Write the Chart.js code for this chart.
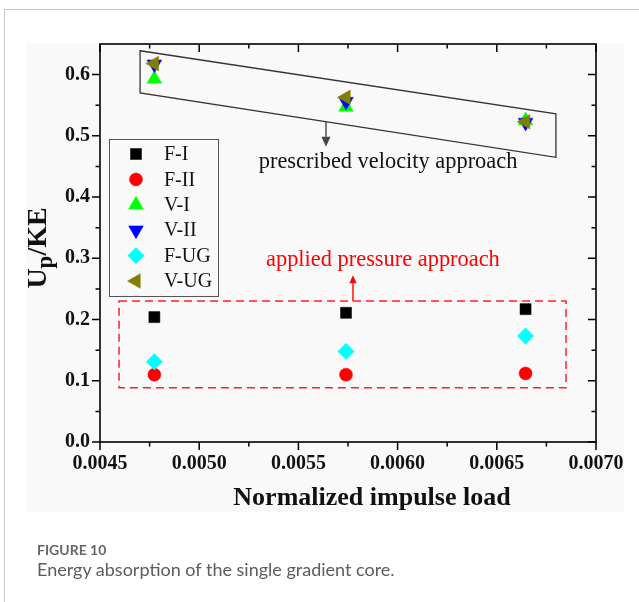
<!DOCTYPE html>
<html>
<head>
<meta charset="utf-8">
<script src="https://cdn.jsdelivr.net/npm/chart.js@4/dist/chart.umd.min.js"></script>
<style>
  html, body { margin: 0; padding: 0; background: #fff; width: 639px; height: 602px; overflow: hidden; }
  .card { position: absolute; left: 4px; top: 9px; width: 720px; height: 700px; border: 1px solid #c9c9c9; box-sizing: border-box; }
  .panel { position: absolute; left: 26px; top: 43px; width: 598px; height: 469px; background: #f9f9f9; }
  #chart { position: absolute; left: 0; top: 0; }
  .cap { position: absolute; left: 37px; font-family: Lato, "Open Sans", sans-serif; color: #666; white-space: nowrap; }
  .cap.num { top: 541px; font-size: 14px; font-weight: 700; line-height: 18px; }
  .cap.txt { top: 558px; font-size: 18px; line-height: 22px; color: #5c5c5c; }
</style>
</head>
<body>
<div class="card"></div>
<div class="panel"></div>
<canvas id="chart" width="639" height="602"></canvas>
<div class="cap num">FIGURE 10</div>
<div class="cap txt">Energy absorption of the single gradient core.</div>
<script>
// Normalized impulse load for the three load cases
const impulse = [0.004774, 0.005740, 0.006645];

// Up/KE for each model
const fI  = [0.204, 0.211, 0.217];
const fII = [0.110, 0.110, 0.112];
const vI  = [0.593, 0.547, 0.525];
const vII = [0.617, 0.556, 0.522];
const fUG = [0.131, 0.148, 0.173];
const vUG = [0.618, 0.563, 0.523];

const seriesNames = ['F-I', 'F-II', 'V-I', 'V-II', 'F-UG', 'V-UG'];

// Axis tick values
const xTickValues = [0.0045, 0.0050, 0.0055, 0.0060, 0.0065, 0.0070];
const xMinorTicks = [0.00475, 0.00525, 0.00575, 0.00625, 0.00675];
const yTickValues = [0.0, 0.1, 0.2, 0.3, 0.4, 0.5, 0.6];
const yMinorTicks = [0.05, 0.15, 0.25, 0.35, 0.45, 0.55];

// Grouping outlines and their labels, in axis units
const velocityBox = [[0.004702, 0.639], [0.006798, 0.536], [0.006798, 0.465], [0.004702, 0.570]];
const velocityArrow = { x: 0.005639, from: 0.523, to: 0.482 };
const velocityLabel = { x: 0.005952, y: 0.457, text: 'prescribed velocity approach' };
const pressureBox = { x0: 0.004596, x1: 0.006849, y0: 0.0885, y1: 0.2304 };
const pressureArrow = { x: 0.005775, from: 0.2304, to: 0.2725 };
const pressureLabel = { x: 0.005926, y: 0.297, text: 'applied pressure approach' };

const SERIF = '"Liberation Serif", "Times New Roman", serif';

const pairs = ys => ys.map((v, i) => ({ x: impulse[i], y: v }));

const styles = [
  { color: '#000000', pointStyle: 'rect',     rotation: 0,   radius: 7.8 },
  { color: '#ff0000', pointStyle: 'circle',   rotation: 0,   radius: 6.5 },
  { color: '#00ff00', pointStyle: 'triangle', rotation: 0,   radius: 8.5 },
  { color: '#0000ff', pointStyle: 'triangle', rotation: 180, radius: 8.5 },
  { color: '#00ffff', pointStyle: 'rectRot',  rotation: 0,   radius: 8.2 },
  { color: '#808000', pointStyle: 'triangle', rotation: 270, radius: 8.5 }
];
const seriesValues = [fI, fII, vI, vII, fUG, vUG];

const datasets = seriesValues.map((vals, i) => ({
  label: seriesNames[i],
  data: pairs(vals),
  showLine: false,
  pointStyle: styles[i].pointStyle,
  rotation: styles[i].rotation,
  pointRadius: styles[i].radius,
  pointHoverRadius: styles[i].radius,
  backgroundColor: styles[i].color,
  borderColor: styles[i].color,
  pointBorderWidth: 0.5,
  order: seriesNames.length - i
}));

function arrow(ctx, x, y0, y1, color, head) {
  ctx.strokeStyle = color;
  ctx.fillStyle = color;
  ctx.lineWidth = 1.4;
  const dir = Math.sign(y1 - y0);
  ctx.beginPath();
  ctx.moveTo(x, y0);
  ctx.lineTo(x, y1 - dir * head);
  ctx.stroke();
  ctx.beginPath();
  ctx.moveTo(x, y1);
  ctx.lineTo(x - head * 0.45, y1 - dir * head);
  ctx.lineTo(x + head * 0.45, y1 - dir * head);
  ctx.closePath();
  ctx.fill();
}

const decorations = {
  id: 'decorations',
  beforeDatasetsDraw(chart) {
    const { ctx, chartArea: a, scales: { x, y } } = chart;
    ctx.save();

    // plot frame
    ctx.strokeStyle = '#000';
    ctx.lineWidth = 1.6;
    ctx.strokeRect(a.left, a.top, a.right - a.left, a.bottom - a.top);

    // ticks: outward on bottom/left, inward on top/right
    const major = 8, minor = 4.5;
    ctx.lineWidth = 1.5;
    const tickX = (v, len) => {
      const px = x.getPixelForValue(v);
      ctx.beginPath();
      ctx.moveTo(px, a.bottom); ctx.lineTo(px, a.bottom + len);
      ctx.moveTo(px, a.top); ctx.lineTo(px, a.top + len);
      ctx.stroke();
    };
    const tickY = (v, len) => {
      const py = y.getPixelForValue(v);
      ctx.beginPath();
      ctx.moveTo(a.left, py); ctx.lineTo(a.left - len, py);
      ctx.moveTo(a.right, py); ctx.lineTo(a.right - len, py);
      ctx.stroke();
    };
    xTickValues.forEach(v => tickX(v, major));
    xMinorTicks.forEach(v => tickX(v, minor));
    yTickValues.forEach(v => tickY(v, major));
    yMinorTicks.forEach(v => tickY(v, minor));

    // prescribed velocity group outline
    ctx.strokeStyle = '#333';
    ctx.lineWidth = 1.3;
    ctx.beginPath();
    velocityBox.forEach(([vx, vy], i) => {
      const px = x.getPixelForValue(vx), py = y.getPixelForValue(vy);
      if (i === 0) ctx.moveTo(px, py); else ctx.lineTo(px, py);
    });
    ctx.closePath();
    ctx.stroke();
    arrow(ctx, x.getPixelForValue(velocityArrow.x), y.getPixelForValue(velocityArrow.from),
          y.getPixelForValue(velocityArrow.to), '#444', 10);

    // applied pressure group outline
    ctx.strokeStyle = '#ff2020';
    ctx.lineWidth = 1.5;
    ctx.setLineDash([8, 5]);
    const bx0 = x.getPixelForValue(pressureBox.x0), bx1 = x.getPixelForValue(pressureBox.x1);
    const by0 = y.getPixelForValue(pressureBox.y0), by1 = y.getPixelForValue(pressureBox.y1);
    ctx.strokeRect(bx0, by1, bx1 - bx0, by0 - by1);
    ctx.setLineDash([]);
    arrow(ctx, x.getPixelForValue(pressureArrow.x), y.getPixelForValue(pressureArrow.from),
          y.getPixelForValue(pressureArrow.to), '#ff0000', 8);

    // group labels
    ctx.textAlign = 'center';
    ctx.textBaseline = 'middle';
    ctx.font = '22.4px ' + SERIF;
    ctx.fillStyle = '#111';
    ctx.fillText(velocityLabel.text, x.getPixelForValue(velocityLabel.x), y.getPixelForValue(velocityLabel.y));
    ctx.fillStyle = '#ff0000';
    ctx.fillText(pressureLabel.text, x.getPixelForValue(pressureLabel.x), y.getPixelForValue(pressureLabel.y));

    ctx.restore();
  },
  afterDraw(chart) {
    const { ctx, chartArea: a } = chart;
    ctx.save();

    // legend
    const lx = a.left + 9, ly = a.top + 95, lw = 109, lh = 157;
    ctx.strokeStyle = '#555';
    ctx.lineWidth = 1;
    ctx.strokeRect(lx + 0.5, ly + 0.5, lw, lh);
    ctx.font = '20px ' + SERIF;
    ctx.textAlign = 'left';
    ctx.textBaseline = 'middle';
    chart.data.datasets.forEach((ds, i) => {
      const cy = ly + 15 + i * 25.4;
      ctx.fillStyle = ds.backgroundColor;
      ctx.strokeStyle = ds.borderColor;
      ctx.lineWidth = 0.5;
      Chart.helpers.drawPoint(ctx, {
        pointStyle: ds.pointStyle, rotation: ds.rotation, radius: ds.pointRadius, borderWidth: 0.5
      }, lx + 27, cy);
      ctx.fillStyle = '#111';
      ctx.fillText(ds.label, lx + 55, cy + 1);
    });

    // axis titles
    ctx.fillStyle = '#111';
    ctx.font = 'bold 26px ' + SERIF;
    ctx.textAlign = 'center';
    ctx.textBaseline = 'alphabetic';
    ctx.fillText('Normalized impulse load', 372, 505);

    ctx.translate(46, 248);
    ctx.rotate(-Math.PI / 2);
    const big = 'bold 28px ' + SERIF, small = 'bold 23px ' + SERIF;
    ctx.font = big; const wU = ctx.measureText('U').width; const wRest = ctx.measureText('/KE').width;
    ctx.font = small; const wP = ctx.measureText('p').width;
    let cx = -(wU + wP + wRest) / 2;
    ctx.textAlign = 'left';
    ctx.font = big; ctx.fillText('U', cx, 0); cx += wU;
    ctx.font = small; ctx.fillText('p', cx, 6); cx += wP;
    ctx.font = big; ctx.fillText('/KE', cx, 0);

    ctx.restore();
  }
};

new Chart(document.getElementById('chart'), {
  type: 'scatter',
  data: { datasets },
  options: {
    responsive: false,
    animation: false,
    events: [],
    layout: { padding: { top: 44, right: 43, left: 0, bottom: 0 } },
    plugins: { legend: { display: false }, tooltip: { enabled: false } },
    scales: {
      x: {
        type: 'linear',
        min: 0.0045,
        max: 0.0070,
        afterBuildTicks: s => { s.ticks = xTickValues.map(v => ({ value: v })); },
        afterFit: s => { s.height = 160; },
        grid: { display: false, drawTicks: false },
        border: { display: false },
        ticks: {
          autoSkip: false, maxRotation: 0, padding: 10, color: '#111',
          font: { family: SERIF, size: 20, weight: 'bold' },
          callback: v => v.toFixed(4)
        }
      },
      y: {
        type: 'linear',
        min: 0,
        max: 0.65,
        afterBuildTicks: s => { s.ticks = yTickValues.map(v => ({ value: v })); },
        afterFit: s => { s.width = 100; },
        grid: { display: false, drawTicks: false },
        border: { display: false },
        ticks: {
          autoSkip: false, padding: 10, color: '#111',
          font: { family: SERIF, size: 20, weight: 'bold' },
          callback: v => v.toFixed(1)
        }
      }
    }
  },
  plugins: [decorations]
});
</script>
</body>
</html>
